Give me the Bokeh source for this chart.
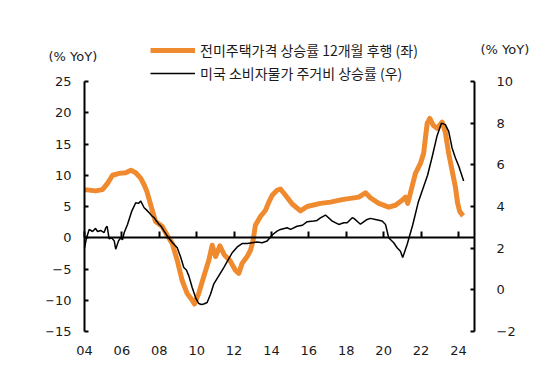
from bokeh.plotting import figure
from bokeh.models import Range1d, LinearAxis, FixedTicker, Legend, LegendItem, Label
from bokeh.embed import file_html
from bokeh.resources import INLINE

# ---- data ----
house_years = [2004.00, 2004.60, 2004.96, 2005.23, 2005.50, 2005.86, 2006.21, 2006.48, 2006.74, 2007.01,
               2007.20, 2007.35, 2007.62, 2007.80, 2008.16, 2008.42, 2008.69, 2008.96, 2009.22, 2009.49,
               2009.76, 2009.88, 2010.11, 2010.38, 2010.65, 2010.83, 2011.01, 2011.24, 2011.49, 2011.77,
               2012.07, 2012.25, 2012.43, 2012.70, 2012.88, 2013.02, 2013.14, 2013.41, 2013.68, 2013.86,
               2014.04, 2014.30, 2014.48, 2014.75, 2015.11, 2015.55, 2015.91, 2016.62, 2017.16, 2017.78,
               2018.22, 2018.67, 2019.03, 2019.29, 2019.74, 2020.27, 2020.63, 2020.99, 2021.17, 2021.29,
               2021.47, 2021.70, 2021.97, 2022.14, 2022.24, 2022.33, 2022.47, 2022.65, 2022.86, 2023.13,
               2023.30, 2023.48, 2023.66, 2023.84, 2023.96, 2024.07, 2024.25]
house_vals = [7.7, 7.5, 7.7, 8.7, 10.0, 10.3, 10.4, 10.8, 10.4, 9.5,
              8.4, 7.3, 4.4, 2.6, 1.8, 0.4, -0.9, -3.6, -6.8, -8.9,
              -10.0, -10.6, -8.9, -6.2, -3.6, -1.2, -3.0, -1.3, -2.8, -3.6,
              -5.2, -5.7, -4.1, -3.0, -2.0, -0.4, 2.0, 3.4, 4.4, 5.7,
              6.8, 7.6, 7.8, 6.8, 5.4, 4.3, 5.0, 5.5, 5.7, 6.1,
              6.3, 6.5, 7.2, 6.4, 5.5, 4.9, 5.2, 6.0, 6.5, 5.5,
              7.6, 10.3, 11.9, 13.5, 16.1, 18.3, 19.1, 18.0, 17.5, 18.5,
              16.9, 13.5, 10.8, 8.1, 5.5, 4.2, 3.5]

cpi_years = [2004.00, 2004.11, 2004.25, 2004.43, 2004.59, 2004.70, 2004.86, 2005.05, 2005.14, 2005.21,
             2005.32, 2005.45, 2005.59, 2005.67, 2005.82, 2005.94, 2006.03, 2006.12, 2006.30, 2006.53,
             2006.74, 2006.89, 2007.01, 2007.19, 2007.30, 2007.46, 2007.60, 2007.73, 2007.85, 2007.99,
             2008.10, 2008.26, 2008.49, 2008.71, 2008.96, 2009.15, 2009.31, 2009.45, 2009.58, 2009.76,
             2009.94, 2010.11, 2010.25, 2010.38, 2010.56, 2010.74, 2010.91, 2011.18, 2011.45, 2011.72,
             2011.90, 2012.17, 2012.43, 2012.70, 2012.97, 2013.24, 2013.50, 2013.77, 2014.04, 2014.30,
             2014.48, 2014.84, 2015.02, 2015.37, 2015.66, 2015.91, 2016.26, 2016.44, 2016.62, 2016.89,
             2017.25, 2017.60, 2017.87, 2018.05, 2018.32, 2018.41, 2018.76, 2019.12, 2019.29, 2019.56,
             2019.92, 2020.10, 2020.27, 2020.54, 2020.72, 2020.90, 2021.02, 2021.26, 2021.55, 2021.85,
             2022.10, 2022.35, 2022.60, 2022.86, 2023.09, 2023.30, 2023.48, 2023.66, 2023.84, 2024.02,
             2024.14, 2024.28]
cpi_vals = [2.0, 2.5, 2.9, 2.8, 2.95, 2.8, 2.85, 2.75, 2.98, 3.05,
            2.45, 2.5, 2.35, 1.95, 2.35, 2.5, 2.4, 2.74, 3.14, 3.78,
            4.18, 4.15, 4.26, 3.94, 3.85, 3.70, 3.55, 3.46, 3.30, 3.14,
            3.05, 2.82, 2.50, 2.26, 2.02, 1.55, 1.07, 0.95, 0.67, 0.11,
            -0.37, -0.66, -0.70, -0.68, -0.61, -0.21, 0.27, 0.67, 1.07, 1.50,
            1.78, 2.06, 2.22, 2.22, 2.26, 2.30, 2.26, 2.34, 2.63, 2.82,
            2.90, 2.98, 2.90, 3.05, 3.10, 3.27, 3.30, 3.33, 3.45, 3.59,
            3.30, 3.14, 3.22, 3.22, 3.46, 3.43, 3.15, 3.38, 3.43, 3.38,
            3.30, 3.14, 2.50, 2.26, 2.02, 1.85, 1.55, 2.19, 3.10, 4.20,
            4.85, 5.50, 6.40, 7.40, 8.00, 7.93, 7.61, 6.81, 6.33, 5.93,
            5.61, 5.22]

x_ticks = [2004, 2006, 2008, 2010, 2012, 2014, 2016, 2018, 2020, 2022, 2024]
x_tick_labels = ["04", "06", "08", "10", "12", "14", "16", "18", "20", "22", "24"]
left_ticks = [-15, -10, -5, 0, 5, 10, 15, 20, 25]
left_tick_labels = ["\u221215", "\u221210", "\u22125", "0", "5", "10", "15", "20", "25"]
right_ticks = [-2, 0, 2, 4, 6, 8, 10]
right_tick_labels = ["\u22122", "0", "2", "4", "6", "8", "10"]

house_label = "전미주택가격 상승률 12개월 후행 (좌)"
cpi_label = "미국 소비자물가 주거비 상승률 (우)"
unit_label = "(% YoY)"

# ---- layout constants (pixels) ----
W, H = 556, 366
FL, FR, FT, FB = 46, 534, 0, 339          # frame edges on canvas
AX_L, AX_R, AX_T, AX_B = 84, 474, 81, 331 # chart axes box on canvas
X0, X1 = 2004.0, 2024.86                  # x extent of chart box
YL0, YL1 = -15, 25
YR0, YR1 = -2, 10

pxx = (AX_R - AX_L) / (X1 - X0)
pyl = (AX_B - AX_T) / (YL1 - YL0)
pyr = (AX_B - AX_T) / (YR1 - YR0)
x_start = X0 - (AX_L - FL) / pxx
x_end = X1 + (FR - AX_R) / pxx
yl_start = YL0 - (FB - AX_B) / pyl
yl_end = YL1 + (AX_T - FT) / pyl
yr_start = YR0 - (FB - AX_B) / pyr
yr_end = YR1 + (AX_T - FT) / pyr

ORANGE = "#EF8A2E"
NUM_FONT = "DejaVu Sans"
KR_FONT = "Noto Sans CJK KR"
TXT = "#1a1a1a"

p = figure(width=W, height=H, x_range=Range1d(x_start, x_end), y_range=Range1d(yl_start, yl_end),
           output_backend="svg", toolbar_location=None,
           min_border_left=FL, min_border_right=W - FR, min_border_top=FT, min_border_bottom=H - FB)
p.extra_y_ranges = {"right": Range1d(yr_start, yr_end)}
p.outline_line_color = None
p.xgrid.visible = False
p.ygrid.visible = False
p.background_fill_color = "white"
p.border_fill_color = "white"

# bottom axis: labels only
xa = p.xaxis[0]
xa.ticker = FixedTicker(ticks=x_ticks)
xa.major_label_overrides = dict(zip(x_ticks, x_tick_labels))
xa.axis_line_color = None
xa.major_tick_line_color = None
xa.minor_tick_line_color = None
xa.major_label_standoff = 0
xa.major_label_text_font = NUM_FONT
xa.major_label_text_font_size = "13px"
xa.major_label_text_color = TXT

# left axis at fixed x
ya = p.yaxis[0]
ya.fixed_location = X0
ya.bounds = (YL0, YL1)
ya.ticker = FixedTicker(ticks=left_ticks)
ya.major_label_overrides = dict(zip(left_ticks, left_tick_labels))
ya.axis_line_width = 2
ya.axis_line_color = "black"
ya.major_tick_in = 4
ya.major_tick_out = 0
ya.major_tick_line_width = 2
ya.minor_tick_line_color = None
ya.major_label_standoff = 13
ya.major_label_text_font = NUM_FONT
ya.major_label_text_font_size = "13px"
ya.major_label_text_color = TXT

# right axis line + ticks
ra = LinearAxis(y_range_name="right", ticker=FixedTicker(ticks=right_ticks),
                fixed_location=X1, bounds=(YR0, YR1))
ra.axis_line_width = 2
ra.axis_line_color = "black"
ra.major_tick_in = 4
ra.major_tick_out = 0
ra.major_tick_line_width = 2
ra.minor_tick_line_color = None
ra.major_label_standoff = 0
ra.major_label_text_font_size = "1px"
ra.major_label_text_color = None
p.add_layout(ra, "right")

# right axis labels
rl = LinearAxis(y_range_name="right", ticker=FixedTicker(ticks=right_ticks),
                fixed_location=X1 + 16 / pxx, bounds=(YR0, YR1))
rl.major_label_overrides = dict(zip(right_ticks, right_tick_labels))
rl.axis_line_color = None
rl.major_tick_line_color = None
rl.minor_tick_line_color = None
rl.major_label_standoff = 0
rl.major_label_text_font = NUM_FONT
rl.major_label_text_font_size = "13px"
rl.major_label_text_color = TXT
p.add_layout(rl, "right")

# zero line axis with upward ticks
za = LinearAxis(fixed_location=0, ticker=FixedTicker(ticks=x_ticks), bounds=(X0, X1))
za.axis_line_width = 2
za.axis_line_color = "black"
za.major_tick_in = 6
za.major_tick_out = 0
za.major_tick_line_width = 2
za.minor_tick_line_color = None
za.major_label_standoff = 0
za.major_label_text_color = None
za.major_label_text_font_size = "1px"
p.add_layout(za, "below")

r_house = p.line(house_years, house_vals, line_color=ORANGE, line_width=5, line_join="round")
r_cpi = p.line(cpi_years, cpi_vals, y_range_name="right", line_color="black", line_width=1.5)

legend = Legend(items=[LegendItem(label=house_label, renderers=[r_house]),
                       LegendItem(label=cpi_label, renderers=[r_cpi])],
                location=(150 - FL, FB - 83), orientation="vertical",
                padding=0, margin=0, spacing=3, glyph_width=45, glyph_height=20,
                label_height=20, label_standoff=5,
                label_text_font=KR_FONT, label_text_font_size="14px", label_text_color=TXT,
                border_line_color=None, background_fill_alpha=0)
p.add_layout(legend)

p.add_layout(Label(x=48 - FL, y=FB - 56, x_units="screen", y_units="screen", text=unit_label,
                   text_baseline="middle", text_align="left", text_font=NUM_FONT,
                   text_font_size="13px", text_color=TXT))
p.add_layout(Label(x=480 - FL, y=FB - 49, x_units="screen", y_units="screen", text=unit_label,
                   text_baseline="middle", text_align="left", text_font=NUM_FONT,
                   text_font_size="13px", text_color=TXT))

open("out.html", "w").write(file_html(p, INLINE))
